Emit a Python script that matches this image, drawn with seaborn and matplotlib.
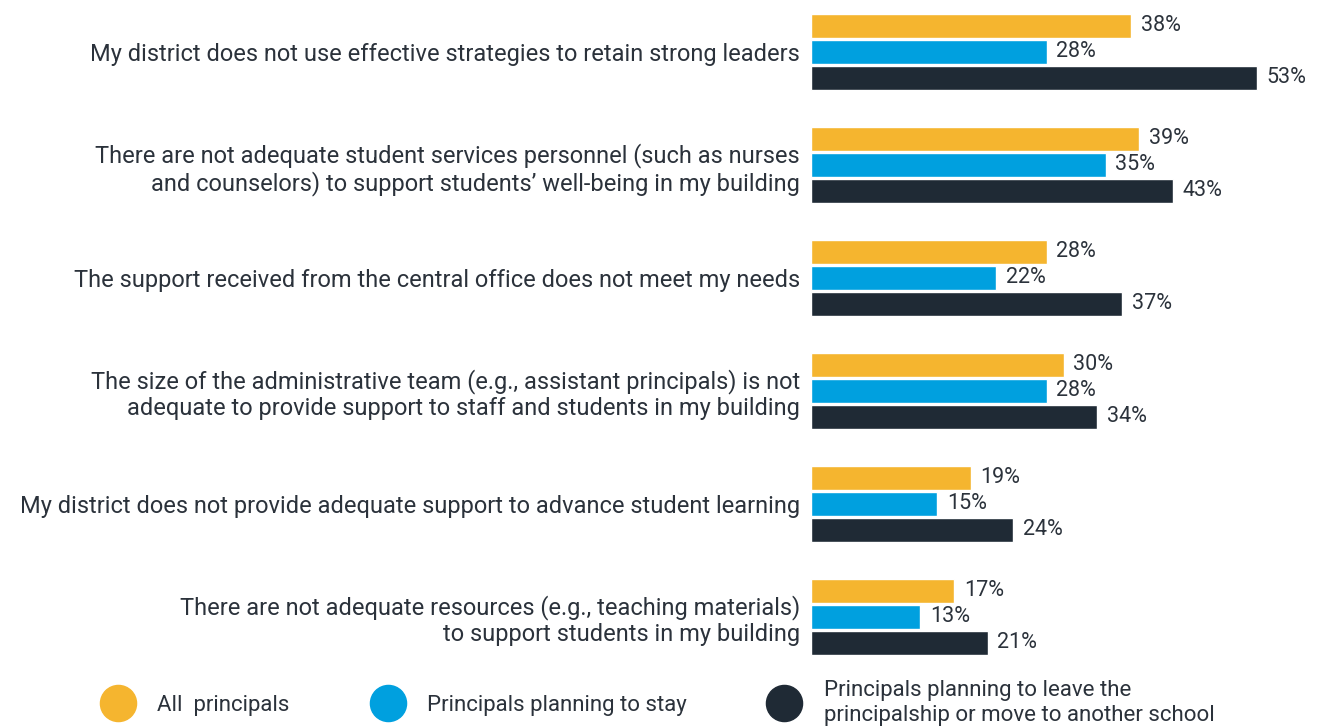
import numpy as np
import pandas as pd
import matplotlib.pyplot as plt
from matplotlib.lines import Line2D
import seaborn as sns

statements = [
    'My district does not use effective strategies to retain strong leaders',
    'There are not adequate student services personnel (such as nurses\nand counselors) to support students\u2019 well-being in my building',
    'The support received from the central office does not meet my needs',
    'The size of the administrative team (e.g., assistant principals) is not\nadequate to provide support to staff and students in my building',
    'My district does not provide adequate support to advance student learning',
    'There are not adequate resources (e.g., teaching materials)\nto support students in my building',
]
groups = ['All  principals', 'Principals planning to stay',
          'Principals planning to leave the\nprincipalship or move to another school']
all_principals = [38, 39, 28, 30, 19, 17]
planning_stay = [28, 35, 22, 28, 15, 13]
planning_leave = [53, 43, 37, 34, 24, 21]
colors = ['#F5B52F', '#00A0DF', '#1F2A35']
text_color = '#2B323B'

df = pd.DataFrame({
    'statement': statements * 3,
    'group': np.repeat(groups, len(statements)),
    'pct': all_principals + planning_stay + planning_leave,
})

sns.set_style('white')
plt.rcParams['font.family'] = ['Roboto', 'DejaVu Sans']

fig = plt.figure(figsize=(13.23, 7.27), dpi=100)
ax = fig.add_axes([811 / 1323, 1 - 670 / 727, 505 / 1323, 670 / 727])

sns.barplot(data=df, y='statement', x='pct', hue='group', order=statements,
            hue_order=groups, palette=colors, orient='h', width=0.69, gap=0.08,
            saturation=1, legend=False, ax=ax)

for cont in ax.containers:
    ax.bar_label(cont, fmt='{:.0f}%', padding=7, fontsize=15.5, color=text_color)

ax.set_xlim(0, 60)
ax.set_ylim(5.47, -0.46)
ax.set_xlabel('')
ax.set_ylabel('')
ax.set_xticks([])
ax.tick_params(axis='y', length=0, pad=8)
for lbl in ax.get_yticklabels():
    lbl.set_fontsize(17)
    lbl.set_color(text_color)
    lbl.set_linespacing(1.15)
sns.despine(ax=ax, left=True, bottom=True)

handles = [Line2D([], [], marker='o', linestyle='', markersize=26,
                  markerfacecolor=c, markeredgecolor=c) for c in colors]
fig.legend(handles, groups, loc='center left', bbox_to_anchor=(87 / 1323, 1 - 703 / 727),
           ncol=3, frameon=False, fontsize=16, handletextpad=0.77,
           columnspacing=3.4, labelcolor=text_color, borderaxespad=0)

fig.savefig('out.png', dpi=100)
